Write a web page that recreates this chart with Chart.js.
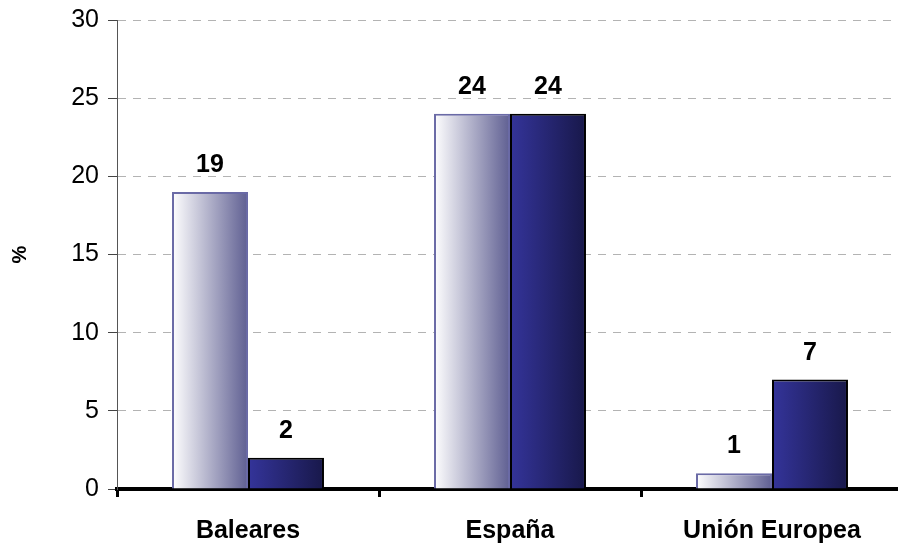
<!DOCTYPE html>
<html><head><meta charset="utf-8">
<script src="https://cdn.jsdelivr.net/npm/chart.js@4"></script>
<style>html,body{margin:0;padding:0;overflow:hidden;background:#fff}#wrap{width:904px;height:544px}</style>
</head><body><div id="wrap"><canvas id="c" width="904" height="544"></canvas></div>
<script>
const categories = ["Baleares", "España", "Unión Europea"];
const seriesA = [19, 24, 1];
const seriesB = [2, 24, 7];
const yTicks = [0, 5, 10, 15, 20, 25, 30];

const CAT_PCT = 0.58;
const gradStops = [
  [[0, '#ffffff'], [1, '#5f5f92']],
  [[0, '#34349a'], [1, '#18184a']]
];
const fallback = ['#b0b0cc', '#2a2a7a'];
function barGradient(context) {
  const chart = context.chart;
  const xs = chart.scales && chart.scales.x;
  const di = context.datasetIndex || 0;
  if (!xs || context.type !== 'data' || !isFinite(xs.width) || xs.width <= 0) return fallback[di];
  const n = chart.data.labels.length;
  const catW = xs.width / n;
  const total = catW * CAT_PCT;
  const barW = total / chart.data.datasets.length;
  const center = xs.getPixelForValue(context.dataIndex);
  const l = center - total / 2 + di * barW;
  if (!isFinite(l) || !isFinite(barW)) return fallback[di];
  const g = chart.ctx.createLinearGradient(l, 0, l + barW, 0);
  gradStops[di].forEach(s => g.addColorStop(s[0], s[1]));
  return g;
}

const labelPlugin = {
  id: 'vlabels',
  afterDatasetsDraw(chart) {
    const ctx = chart.ctx;
    ctx.save();
    ctx.font = 'bold 25px "Liberation Sans", Arial, sans-serif';
    ctx.fillStyle = '#000';
    ctx.textAlign = 'center';
    ctx.textBaseline = 'alphabetic';
    chart.data.datasets.forEach((ds, i) => {
      chart.getDatasetMeta(i).data.forEach((el, j) => {
        ctx.fillText(String(ds.data[j]), el.x, el.y - 20);
      });
    });
    ctx.restore();
  }
};

new Chart(document.getElementById('c'), {
  type: 'bar',
  data: {
    labels: categories,
    datasets: [
      { data: seriesA, backgroundColor: barGradient, borderColor: '#6a6aa6', borderWidth: 2, borderSkipped: 'bottom' },
      { data: seriesB, backgroundColor: barGradient, borderColor: '#000000', borderWidth: 2, borderSkipped: 'bottom' }
    ]
  },
  options: {
    responsive: false,
    animation: false,
    devicePixelRatio: 1,
    layout: { padding: { top: 20, right: 1, left: 0, bottom: 0 } },
    plugins: { legend: { display: false }, tooltip: { enabled: false } },
    datasets: { bar: { categoryPercentage: CAT_PCT, barPercentage: 1.0 } },
    scales: {
      x: {
        offset: true,
        grid: { offset: true, drawOnChartArea: false, drawTicks: true, tickLength: 8, color: '#000', lineWidth: 3 },
        border: { display: true, color: '#000', width: 4 },
        ticks: { color: '#000', padding: 19, font: { family: '"Liberation Sans", Arial, sans-serif', size: 25, weight: 'bold' } },
        afterFit(s) { s.height = 55; s.paddingLeft = 0; s.paddingRight = 0; }
      },
      y: {
        min: 0, max: 30,
        afterBuildTicks(s) { s.ticks = yTicks.map(v => ({ value: v })); },
        grid: { color: '#b3b3b3', lineWidth: 1, tickLength: 9, tickColor: '#444', tickBorderDash: [], drawTicks: true },
        border: { display: true, color: '#555', width: 1, dash: [8, 7] },
        ticks: { color: '#000', padding: 9, font: { family: '"Liberation Sans", Arial, sans-serif', size: 25 } },
        title: { display: true, text: '%', color: '#000', padding: { top: 8, bottom: 0 }, font: { family: '"Liberation Sans", Arial, sans-serif', size: 20, weight: 'bold' } },
        afterFit(s) { s.width = 117; s.paddingTop = 0; s.paddingBottom = 0; }
      }
    }
  },
  plugins: [labelPlugin]
});
</script>
</body></html>
